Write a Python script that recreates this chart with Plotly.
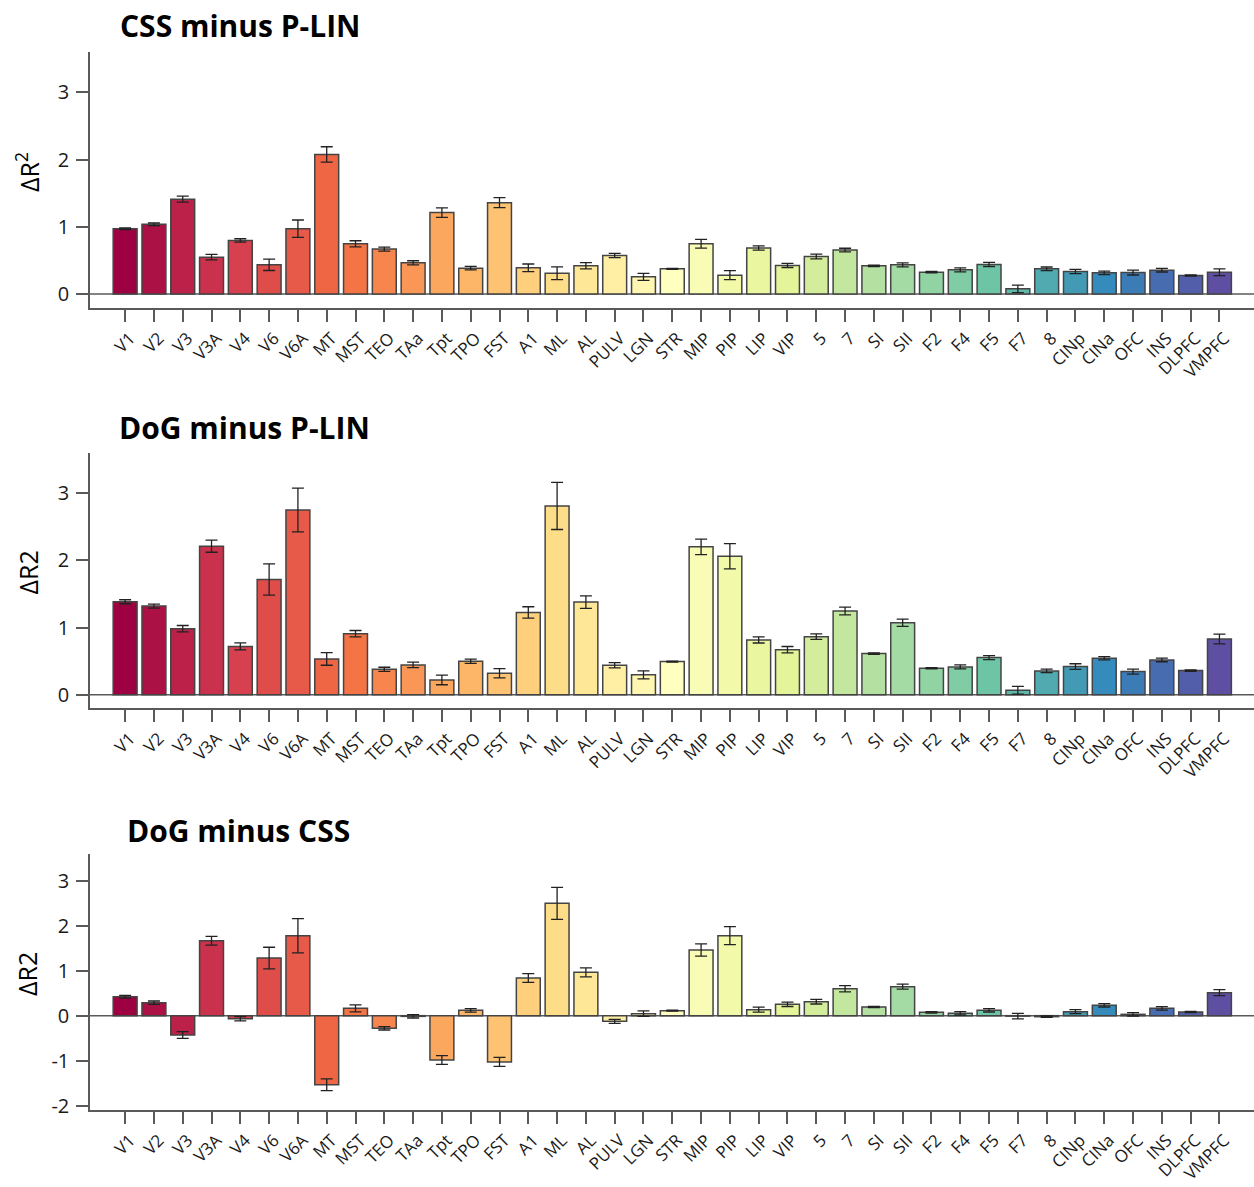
import plotly.graph_objects as go
import plotly.colors as pc

regions = ["V1", "V2", "V3", "V3A", "V4", "V6", "V6A", "MT", "MST", "TEO", "TAa", "Tpt",
           "TPO", "FST", "A1", "ML", "AL", "PULV", "LGN", "STR", "MIP", "PIP", "LIP", "VIP",
           "5", "7", "SI", "SII", "F2", "F4", "F5", "F7", "8", "CINp", "CINa", "OFC", "INS",
           "DLPFC", "VMPFC"]

css_minus_plin = [0.97, 1.035, 1.41, 0.547, 0.796, 0.433, 0.97, 2.075, 0.746, 0.667, 0.463, 1.21,
                  0.383, 1.358, 0.388, 0.308, 0.418, 0.572, 0.254, 0.373, 0.746, 0.279, 0.682, 0.423,
                  0.557, 0.652, 0.418, 0.433, 0.323, 0.358, 0.438, 0.075, 0.373, 0.333, 0.313, 0.318,
                  0.353, 0.274, 0.323]
css_minus_plin_err = [0.012, 0.02, 0.045, 0.04, 0.025, 0.085, 0.13, 0.115, 0.045, 0.03, 0.03, 0.07,
                      0.027, 0.075, 0.057, 0.095, 0.047, 0.032, 0.052, 0.006, 0.065, 0.067, 0.032, 0.03,
                      0.035, 0.027, 0.01, 0.03, 0.01, 0.03, 0.03, 0.055, 0.027, 0.032, 0.027, 0.037,
                      0.027, 0.01, 0.05]

dog_minus_plin = [1.384, 1.32, 0.984, 2.21, 0.72, 1.715, 2.748, 0.534, 0.91, 0.38, 0.445, 0.222,
                  0.5, 0.321, 1.226, 2.808, 1.379, 0.44, 0.297, 0.494, 2.2, 2.061, 0.816, 0.672,
                  0.865, 1.246, 0.613, 1.073, 0.395, 0.415, 0.554, 0.069, 0.356, 0.42, 0.544, 0.346,
                  0.519, 0.361, 0.83]
dog_minus_plin_err = [0.03, 0.03, 0.047, 0.09, 0.052, 0.232, 0.324, 0.094, 0.047, 0.03, 0.04, 0.072,
                      0.032, 0.07, 0.084, 0.35, 0.092, 0.04, 0.06, 0.007, 0.116, 0.188, 0.045, 0.047,
                      0.04, 0.057, 0.01, 0.054, 0.01, 0.03, 0.03, 0.057, 0.025, 0.042, 0.025, 0.037,
                      0.027, 0.01, 0.072]

dog_minus_css = [0.423, 0.29, -0.43, 1.67, -0.067, 1.284, 1.78, -1.537, 0.163, -0.282, -0.015, -0.987,
                 0.119, -1.03, 0.839, 2.502, 0.965, -0.126, 0.045, 0.111, 1.462, 1.782, 0.134, 0.252,
                 0.312, 0.601, 0.193, 0.646, 0.074, 0.052, 0.119, -0.01, -0.022, 0.089, 0.23, 0.03,
                 0.163, 0.082, 0.512]
dog_minus_css_err = [0.03, 0.037, 0.074, 0.097, 0.048, 0.24, 0.38, 0.13, 0.078, 0.037, 0.037, 0.097,
                     0.04, 0.1, 0.097, 0.356, 0.1, 0.045, 0.06, 0.01, 0.137, 0.2, 0.055, 0.048,
                     0.052, 0.07, 0.015, 0.056, 0.015, 0.037, 0.037, 0.06, 0.015, 0.045, 0.037, 0.037,
                     0.037, 0.015, 0.067]

titles = ["CSS minus P-LIN", "DoG minus P-LIN", "DoG minus CSS"]
ytitles = ["ΔR<sup>2</sup>", "ΔR2", "ΔR2"]
yticks_top = [0, 1, 2, 3]
yticks_bottom = [-2, -1, 0, 1, 2, 3]

panels = [
    (css_minus_plin, css_minus_plin_err, [-0.21, 3.6], yticks_top),
    (dog_minus_plin, dog_minus_plin_err, [-0.2, 3.6], yticks_top),
    (dog_minus_css, dog_minus_css_err, [-2.1, 3.6], yticks_bottom),
]

W, H = 1254, 1187
n = len(regions)
colors = pc.sample_colorscale("Spectral", [i / (n - 1) for i in range(n)])

# pixel layout of each panel: (top, bottom) of the plot area
panel_px = [(52, 308), (452.7, 708.3), (854, 1110)]
title_px = [(118, 25), (117, 427), (125, 830)]
x_left, x_right = 90, 1254

AXC = "#5a5a5a"
FONT = "Open Sans"

fig = go.Figure()
layout = dict(
    width=W, height=H, margin=dict(l=0, r=0, t=0, b=0, autoexpand=False),
    paper_bgcolor="white", plot_bgcolor="white", showlegend=False,
    font=dict(family=FONT, color="#1a1a1a"),
    annotations=[], shapes=[],
)

for i, (vals, errs, yr, ytv) in enumerate(panels):
    k = "" if i == 0 else str(i + 1)
    fig.add_trace(go.Bar(
        x=regions, y=vals, xaxis="x" + k, yaxis="y" + k,
        marker=dict(color=colors, line=dict(color="#444444", width=1.5)),
        width=0.83,
        error_y=dict(type="data", array=errs, visible=True, color="#222222",
                     thickness=1.3, width=6),
    ))
    top, bot = panel_px[i]
    layout["xaxis" + k] = dict(
        domain=[x_left / W, 1.0], anchor="y" + k, range=[-1.22, 39.2],
        automargin=False,
        showline=True, linecolor=AXC, linewidth=1.5, mirror=False,
        ticks="outside", ticklen=12, tickwidth=1.5, tickcolor=AXC,
        tickangle=-45, ticklabelstandoff=0, ticklabelshift=5,
        tickfont=dict(size=17, family=FONT, color="#1a1a1a"),
        showgrid=False, zeroline=False, fixedrange=True,
    )
    layout["yaxis" + k] = dict(
        domain=[1 - bot / H, 1 - top / H], anchor="x" + k, range=yr,
        automargin=False,
        showline=True, linecolor=AXC, linewidth=1.5,
        ticks="outside", ticklen=12, tickwidth=1.5, tickcolor=AXC,
        tickvals=ytv, ticktext=[str(v) for v in ytv], ticklabelstandoff=3,
        tickfont=dict(size=20, family=FONT, color="#1a1a1a"),
        showgrid=False, zeroline=False, fixedrange=True,
    )
    # zero line extending across the ticks
    layout["shapes"].append(dict(
        type="line", xref="paper", yref="y" + k, x0=78 / W, x1=1.0, y0=0, y1=0,
        line=dict(color=AXC, width=1.5), layer="below",
    ))
    tx, ty = title_px[i]
    layout["annotations"].append(dict(
        text="<b>" + titles[i] + "</b>", xref="paper", yref="paper",
        x=tx / W, y=1 - ty / H, xanchor="left", yanchor="middle", showarrow=False,
        font=dict(size=30, family=FONT, color="black"),
    ))
    layout["annotations"].append(dict(
        text=ytitles[i], xref="paper", yref="paper", textangle=-90,
        x=27 / W, y=1 - ((top + bot) / 2 - 8) / H, xanchor="center", yanchor="middle",
        showarrow=False, font=dict(size=25, family=FONT, color="black"),
    ))

fig.update_layout(**layout)
fig.write_html("out.html")
